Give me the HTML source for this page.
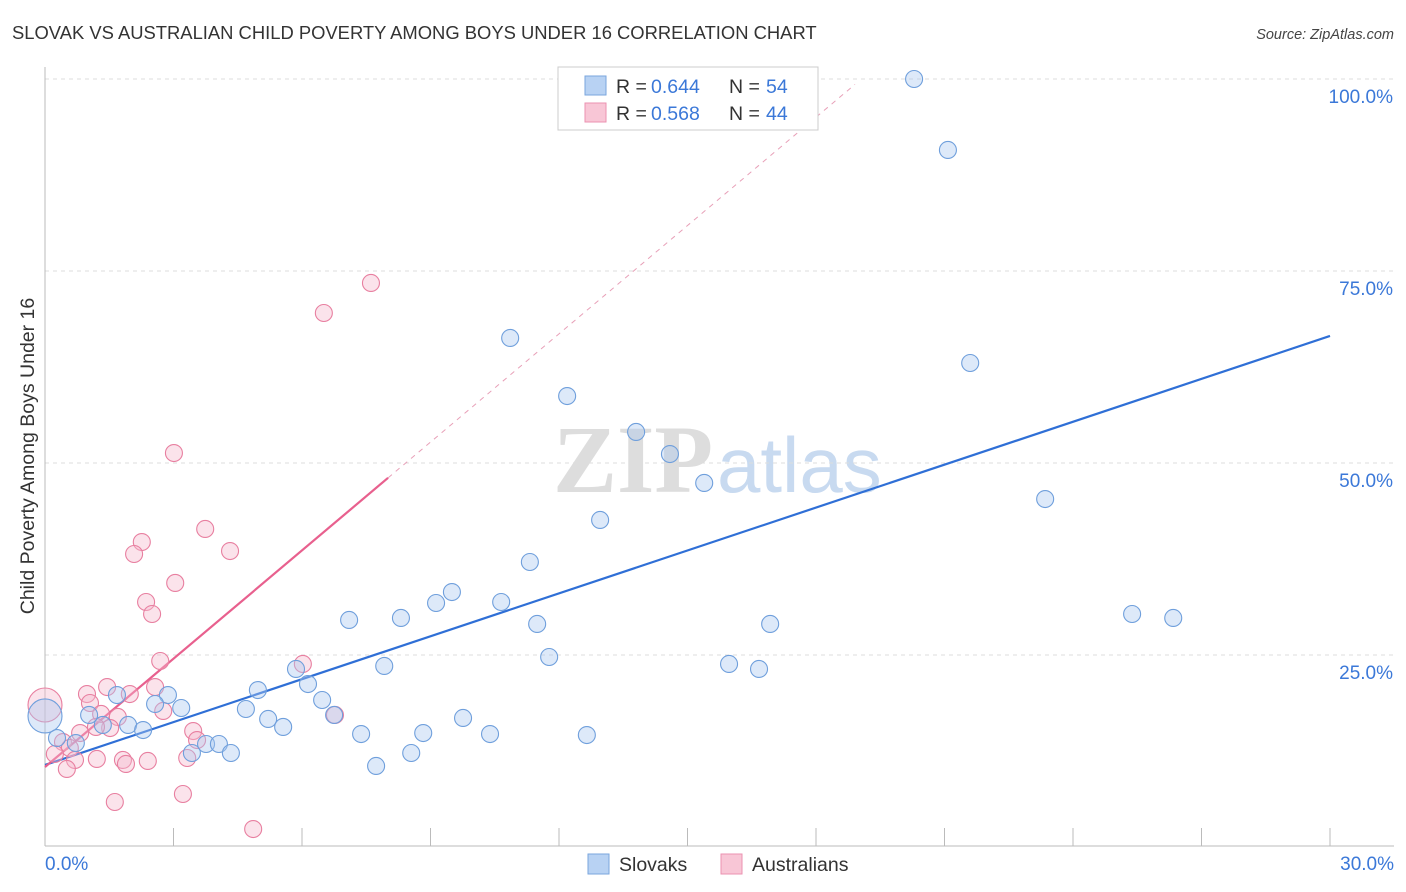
<!DOCTYPE html>
<html><head><meta charset="utf-8"><style>
body{margin:0;background:#fff;font-family:"Liberation Sans",sans-serif;}
svg{display:block}
</style></head><body>
<svg id="chart" width="1406" height="892" xmlns="http://www.w3.org/2000/svg" font-family="Liberation Sans, sans-serif">
<text x="12" y="39" font-size="18.4" fill="#333">SLOVAK VS AUSTRALIAN CHILD POVERTY AMONG BOYS UNDER 16 CORRELATION CHART</text>
<text x="1394" y="39" font-size="14.5" fill="#444" font-style="italic" text-anchor="end">Source: ZipAtlas.com</text>
<g>
<text x="553" y="492" font-family="Liberation Serif, serif" font-size="96" fill="#ddd" font-weight="bold">ZIP</text>
<text x="717" y="492" font-size="78" fill="#c8daf0">atlas</text>
</g>
<g id="grid"></g>
<g id="axes"></g>
<g id="lines"></g>
<g id="pts"></g>
<text transform="translate(34,456) rotate(-90)" font-size="19.5" fill="#333" text-anchor="middle">Child Poverty Among Boys Under 16</text>
<g>
<rect x="558" y="67" width="260" height="63" fill="#fff" stroke="#ccc"/>
<rect x="585" y="76" width="21" height="19" fill="#b8d2f3" stroke="#7aa6de"/>
<rect x="585" y="103" width="21" height="19" fill="#f8c6d6" stroke="#eb92b0"/>
<text x="616" y="93" font-size="19.5" fill="#333">R =</text>
<text x="651" y="93" font-size="19.5" fill="#3b78d8">0.644</text>
<text x="729" y="93" font-size="19.5" fill="#333">N =</text>
<text x="766" y="93" font-size="19.5" fill="#3b78d8">54</text>
<text x="616" y="120" font-size="19.5" fill="#333">R =</text>
<text x="651" y="120" font-size="19.5" fill="#3b78d8">0.568</text>
<text x="729" y="120" font-size="19.5" fill="#333">N =</text>
<text x="766" y="120" font-size="19.5" fill="#3b78d8">44</text>
</g>
<g>
<rect x="588" y="854" width="21" height="20" fill="#b8d2f3" stroke="#7aa6de"/>
<text x="619" y="871" font-size="19.5" fill="#333">Slovaks</text>
<rect x="721" y="854" width="21" height="20" fill="#f8c6d6" stroke="#eb92b0"/>
<text x="752" y="871" font-size="19.5" fill="#333">Australians</text>
</g>
</svg>
<script>
const yTicks=[25,50,75,100];
const yTickLabels=["25.0%","50.0%","75.0%","100.0%"];
const xTicks=[0,3,6,9,12,15,18,21,24,27,30];
const slovakX=[20.29,21.08,21.60,23.35,25.38,26.34,10.86,12.19,13.80,14.59,15.39,12.96,11.32,9.50,9.13,10.65,11.49,11.77,7.10,8.31,7.92,5.86,6.14,6.47,6.75,4.97,4.69,5.21,5.56,7.38,7.73,8.55,8.83,9.76,10.39,12.65,15.97,16.67,16.93,2.87,2.57,3.18,1.68,1.03,1.35,1.94,2.29,3.43,3.76,4.06,4.34,0.72,0.28,0];
const slovakY=[100.0,90.76,63.02,45.31,30.34,29.82,66.28,58.72,54.04,51.17,47.40,42.58,37.11,33.20,31.77,31.90,29.04,24.74,29.56,29.82,23.57,23.18,21.22,19.14,17.19,20.44,17.97,16.67,15.63,14.71,10.55,12.24,14.84,16.80,14.71,14.58,23.83,23.18,29.04,19.79,18.62,18.10,19.79,17.19,15.89,15.89,15.23,12.24,13.41,13.41,12.24,13.54,14.19,17.06];
const ausX=[7.61,6.51,3.01,3.74,4.32,2.26,2.08,3.04,2.36,2.50,2.69,6.02,2.57,1.98,1.45,0.98,1.05,1.31,1.70,1.52,1.19,0.82,0.42,0.58,0.23,0.70,0.51,1.21,1.82,1.89,2.40,2.76,3.46,3.55,3.32,3.22,1.63,4.86,6.77,0];
const ausY=[73.44,69.53,51.30,41.41,38.54,39.71,38.15,34.38,31.90,30.34,24.22,23.83,20.83,19.92,20.83,19.92,18.75,17.32,16.93,15.49,15.63,14.84,13.67,12.89,12.11,11.33,10.16,11.46,11.33,10.81,11.20,17.71,15.10,13.93,11.59,6.90,5.86,2.34,17.19,18.49];
const slovakTrend=[10.68,66.54];
const ausTrend=[10.42,4.70];
const ausSolidEnd=8.01, ausDashEnd=18.91;

const X=v=>45+v*(1285/30), Y=v=>847-v*7.68;
const NS="http://www.w3.org/2000/svg";
function mk(p,t,a){const e=document.createElementNS(NS,t);for(const k in a)e.setAttribute(k,a[k]);p.appendChild(e);return e;}
const grid=document.getElementById('grid'),axes=document.getElementById('axes'),lines=document.getElementById('lines'),pts=document.getElementById('pts');
yTicks.forEach((t,i)=>{
 const g=mk(grid,'line',{x1:45,x2:1394,y1:Y(t),y2:Y(t),stroke:'#ddd','stroke-dasharray':'4,4'});
 
 
 const l=mk(axes,'text',{x:1393,y:Y(t)+24,'font-size':19,fill:'#3b78d8','text-anchor':'end'});
 l.textContent=yTickLabels[i];
 
 
});
const ax=mk(axes,'line',{x1:45,x2:45,y1:67,y2:846,stroke:'#bbb'});


const bx=mk(axes,'line',{x1:45,x2:1394,y1:846,y2:846,stroke:'#bbb'});


xTicks.forEach(t=>{const e=mk(axes,'line',{x1:X(t),x2:X(t),y1:828,y2:846,stroke:'#bbb'});
 
 });
const x0=mk(axes,'text',{x:45,y:870,'font-size':19,fill:'#3b78d8'});x0.textContent='0.0%';


const x1=mk(axes,'text',{x:1394,y:870,'font-size':19,fill:'#3b78d8','text-anchor':'end'});x1.textContent='30.0%';



function dot(x,y,i,n,fill,stroke,name){
 const r=(i===n-1)?17:8.5;
 const c=mk(pts,'circle',{cx:X(x),cy:Y(y),r:r,fill:fill,'fill-opacity':0.4,stroke:stroke,'stroke-width':1.1});
 
 
}
ausX.forEach((x,i)=>dot(x,ausY[i],i,ausX.length,'#f6b8cc','#e87fa0','australian-point'));
slovakX.forEach((x,i)=>dot(x,slovakY[i],i,slovakX.length,'#a9c8f0','#6f9fdc','slovak-point'));

const bl=mk(lines,'line',{x1:X(0),y1:Y(slovakTrend[0]),x2:X(30),y2:Y(slovakTrend[1]),stroke:'#2f6fd6','stroke-width':2.2});


const pl=mk(lines,'line',{x1:X(0),y1:Y(ausTrend[0]),x2:X(ausSolidEnd),y2:Y(ausTrend[0]+ausTrend[1]*ausSolidEnd),stroke:'#e8608e','stroke-width':2.2});


const pd=mk(lines,'line',{x1:X(ausSolidEnd),y1:Y(ausTrend[0]+ausTrend[1]*ausSolidEnd),x2:X(ausDashEnd),y2:Y(ausTrend[0]+ausTrend[1]*ausDashEnd),stroke:'#e8a0b8','stroke-width':1,'stroke-dasharray':'5,5'});


</script>
</body></html>
